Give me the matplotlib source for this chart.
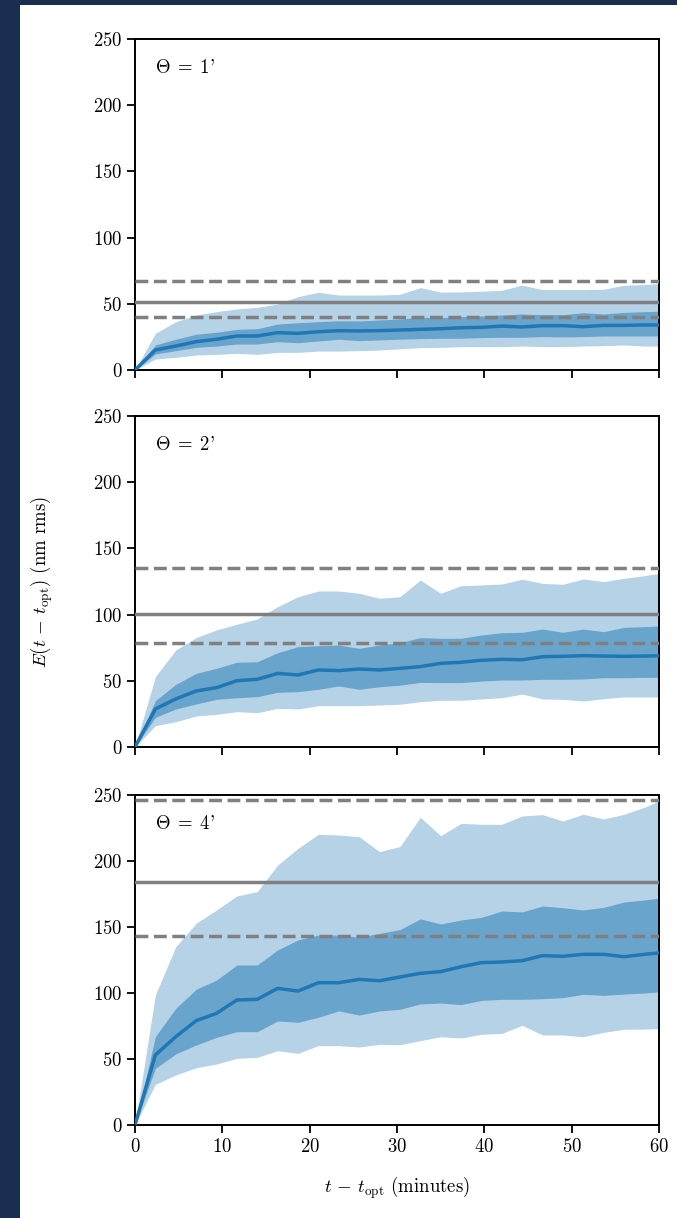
import matplotlib
matplotlib.use("Agg")
import matplotlib.pyplot as plt
from matplotlib.patches import Rectangle

plt.rcParams['font.family'] = 'serif'
plt.rcParams['font.serif'] = ['cmr10']
plt.rcParams['mathtext.fontset'] = 'cm'
plt.rcParams['axes.formatter.use_mathtext'] = True

# time since optimisation (minutes)
times = [0, 2.33, 4.67, 7.0, 9.33, 11.67, 14.0, 16.33, 18.67, 21.0, 23.33, 25.67, 28.0,
         30.33, 32.67, 35.0, 37.33, 39.67, 42.0, 44.33, 46.67, 49.0, 51.33, 53.67, 56.0,
         58.33, 60.67]

thetas = ["1", "2", "4"]

# Theta = 1'
p1_med = [0, 15.1, 18.1, 21.4, 23.2, 25.7, 25.7, 28.2, 27.7, 28.9, 29.7, 29.5, 29.7, 30.2,
          30.7, 31.2, 31.9, 32.2, 33.2, 32.5, 33.5, 33.5, 32.7, 33.7, 33.7, 34.0, 34.0]
p1_in_lo = [0, 12.1, 14.6, 17.1, 18.1, 19.6, 19.6, 21.4, 20.6, 21.9, 23.2, 22.2, 22.7, 23.3,
            23.7, 24.0, 24.0, 24.5, 24.7, 24.7, 25.2, 25.0, 25.2, 25.7, 25.7, 25.7, 25.7]
p1_in_hi = [0, 18.9, 23.2, 27.0, 28.5, 30.7, 31.2, 34.7, 35.7, 36.5, 37.2, 37.0, 37.8, 38.5,
            39.8, 39.5, 40.3, 40.8, 41.5, 42.3, 41.8, 41.8, 43.3, 42.3, 43.5, 44.1, 44.5]
p1_out_lo = [0, 8.3, 9.6, 11.3, 11.8, 12.6, 11.8, 13.3, 13.3, 14.3, 14.3, 14.6, 15.1, 16.0,
             16.9, 17.1, 17.6, 17.6, 17.6, 18.1, 17.6, 17.6, 18.1, 18.4, 18.9, 18.1, 18.0]
p1_out_hi = [0, 27.7, 36.5, 41.5, 44.1, 46.1, 47.3, 49.8, 55.4, 58.7, 56.6, 56.6, 56.6, 57.2,
             62.2, 58.8, 59.0, 59.5, 60.2, 64.1, 60.7, 60.7, 60.7, 61.0, 64.0, 64.5, 65.5]

# Theta = 2'
p2_med = [0, 28.7, 36.3, 42.3, 44.8, 50.1, 51.1, 55.6, 54.4, 58.2, 57.7, 58.9, 58.2, 59.4,
          60.7, 63.2, 64.0, 65.5, 66.2, 65.9, 68.2, 68.5, 69.0, 68.7, 68.5, 68.7, 69.0]
p2_in_lo = [0, 22.4, 28.7, 32.5, 36.0, 37.2, 38.0, 41.3, 41.8, 43.6, 46.1, 43.6, 45.5, 46.7,
            48.8, 48.6, 48.6, 49.8, 50.6, 50.6, 51.1, 51.1, 51.4, 52.3, 52.3, 52.6, 52.6]
p2_in_hi = [0, 35.0, 47.3, 55.6, 59.4, 64.0, 64.4, 71.2, 75.8, 76.5, 77.0, 74.5, 77.0, 78.8,
            82.6, 82.1, 82.1, 84.6, 86.3, 86.6, 89.1, 86.6, 89.1, 87.1, 90.4, 90.9, 91.6]
p2_out_lo = [0, 16.1, 19.1, 23.4, 24.7, 26.7, 25.9, 29.2, 28.7, 31.2, 31.2, 31.2, 31.7, 32.3,
             34.2, 35.3, 35.3, 36.3, 37.2, 40.0, 36.3, 36.0, 34.7, 36.5, 37.8, 37.8, 37.8]
p2_out_hi = [0, 53.1, 73.3, 82.6, 88.4, 92.7, 96.7, 106.0, 113.5, 117.8, 117.8, 116.1, 112.3,
             113.5, 126.1, 116.1, 121.8, 122.4, 123.1, 126.7, 123.6, 122.9, 126.9, 124.9,
             127.4, 129.4, 131.8]

# Theta = 4'
p3_med = [0, 53.0, 66.9, 79.0, 84.6, 94.7, 95.2, 103.5, 101.5, 107.8, 107.8, 110.3, 109.3,
          112.1, 114.9, 116.2, 119.9, 123.0, 123.5, 124.5, 128.3, 127.8, 129.3, 129.3, 127.5,
          129.3, 130.8]
p3_in_lo = [0, 42.9, 53.8, 60.6, 66.4, 70.7, 70.7, 78.8, 77.8, 81.6, 86.4, 83.3, 86.4, 87.7,
            91.7, 92.4, 91.2, 94.4, 95.2, 95.2, 95.7, 96.5, 99.0, 98.2, 99.2, 100.0, 101.2]
p3_in_hi = [0, 66.9, 88.4, 102.8, 109.8, 121.2, 121.2, 132.6, 140.2, 143.9, 143.9, 142.2,
            145.2, 148.0, 156.1, 152.3, 155.3, 157.3, 162.1, 161.4, 165.9, 164.6, 162.9,
            164.9, 168.9, 170.5, 172.4]
p3_out_lo = [0, 30.8, 37.9, 43.4, 46.2, 50.5, 51.3, 56.3, 54.3, 60.1, 60.1, 59.1, 61.1, 60.8,
             63.9, 66.9, 65.9, 68.7, 69.4, 75.5, 68.2, 68.2, 66.9, 70.2, 72.5, 72.7, 73.2]
p3_out_hi = [0, 98.5, 135.1, 152.8, 162.9, 173.5, 176.8, 196.9, 209.6, 220.2, 219.7, 218.4,
             207.1, 210.9, 233.1, 219.2, 228.5, 227.8, 227.8, 234.1, 235.1, 230.3, 235.4,
             231.8, 235.4, 240.7, 247.5]

ref_mid = [51.1, 100.7, 184.3]
ref_lo = [40.3, 78.3, 143.2]
ref_hi = [67.5, 135.0, 246.0]

panels = [
    (p1_med, p1_in_lo, p1_in_hi, p1_out_lo, p1_out_hi),
    (p2_med, p2_in_lo, p2_in_hi, p2_out_lo, p2_out_hi),
    (p3_med, p3_in_lo, p3_in_hi, p3_out_lo, p3_out_hi),
]

W, H = 677, 1218
fig = plt.figure(figsize=(W / 100, H / 100), dpi=100, facecolor='#1a2f4f')
fig.patches.append(Rectangle((20 / W, 0), 1 - 20 / W, 1 - 5 / H, transform=fig.transFigure,
                             facecolor='white', edgecolor='none', zorder=-10))

left = 135 / W
width = (659 - 135) / W
tops = [39, 416, 795]
bots = [370, 747, 1125]
C0 = '#1f77b4'

axes = []
for i, (med, ilo, ihi, olo, ohi) in enumerate(panels):
    ax = fig.add_axes([left, 1 - bots[i] / H, width, (bots[i] - tops[i]) / H])
    axes.append(ax)
    ax.fill_between(times, olo, ohi, color=C0, alpha=0.33, linewidth=0)
    ax.fill_between(times, ilo, ihi, color=C0, alpha=0.5, linewidth=0)
    ax.plot(times, med, color=C0, lw=2.5, zorder=3)
    ax.axhline(ref_mid[i], color='gray', lw=2.5, zorder=4)
    ax.axhline(ref_lo[i], color='gray', lw=2.5, ls='--', zorder=4)
    ax.axhline(ref_hi[i], color='gray', lw=2.5, ls='--', zorder=4)
    ax.set_xlim(0, 60)
    ax.set_ylim(0, 250)
    ax.set_yticks([0, 50, 100, 150, 200, 250])
    ax.set_xticks([0, 10, 20, 30, 40, 50, 60])
    ax.tick_params(direction='out', length=5.5, width=1.3, labelsize=13.5)
    for s in ax.spines.values():
        s.set_linewidth(1.4)
    ax.text(0.038, 0.912, r"$\Theta\;=\;" + thetas[i] + r"$'", transform=ax.transAxes,
            fontsize=13.5, va='center', ha='left')
    if i < 2:
        ax.tick_params(labelbottom=False)

axes[1].set_ylabel(r"$E(t\,-\,t_{\rm opt})$ (nm rms)", fontsize=13.5)
axes[1].yaxis.set_label_coords(-0.152, 0.5)
axes[2].set_xlabel(r"$t\,-\,t_{\rm opt}$ (minutes)", fontsize=13.5)
axes[2].xaxis.set_label_coords(0.5, -0.15)

fig.savefig("out.png", dpi=100, facecolor=fig.get_facecolor())
